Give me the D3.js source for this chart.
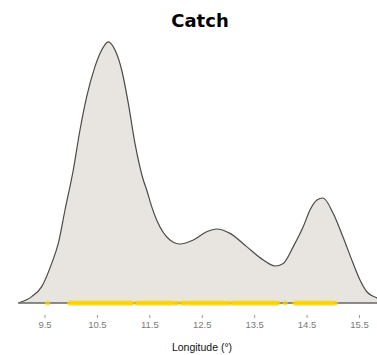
<!DOCTYPE html>
<html>
<head>
<meta charset="utf-8">
<script src="https://cdn.jsdelivr.net/npm/d3@7"></script>
<style>
  body { margin: 0; background: #fff; }
  svg { display: block; }
</style>
</head>
<body>
<div id="chart"></div>
<script>
// density curve (longitude, relative density)
const densLon = [9.00, 9.256, 9.447, 9.637, 9.763, 9.891, 10.049, 10.177, 10.305, 10.463, 10.591, 10.717, 10.845, 10.973, 11.099, 11.226, 11.385, 11.45, 11.545, 11.64, 11.894, 12.085, 12.339, 12.594, 12.785, 13.039, 13.357, 13.674, 13.897, 14.055, 14.246, 14.437, 14.565, 14.698, 14.813, 15.004, 15.195, 15.385, 15.519, 15.653, 15.843, 15.95];
const densVal = [0, 0.016, 0.041, 0.099, 0.149, 0.2325, 0.3325, 0.4325, 0.516, 0.591, 0.6325, 0.653, 0.6325, 0.5825, 0.499, 0.399, 0.3075, 0.2825, 0.241, 0.2075, 0.1575, 0.1475, 0.1575, 0.178, 0.185, 0.174, 0.141, 0.1075, 0.0925, 0.099, 0.141, 0.191, 0.2325, 0.2575, 0.2625, 0.225, 0.165, 0.1, 0.0575, 0.0275, 0.0125, 0.004];

// catch positions (rug)
const catchLon = [9.56,
  9.98, 10.02, 10.06, 10.10, 10.14, 10.18, 10.22, 10.26, 10.30, 10.34, 10.38, 10.42, 10.46, 10.50, 10.54, 10.58, 10.62, 10.66, 10.70, 10.74, 10.78, 10.82, 10.86, 10.90, 10.94, 10.98, 11.02, 11.06, 11.10, 11.14, 11.16,
  11.26, 11.30, 11.34, 11.38, 11.42, 11.46, 11.50, 11.54, 11.58, 11.62, 11.66, 11.70, 11.74, 11.78, 11.82, 11.86, 11.89,
  11.93, 11.99, 12.03,
  12.12, 12.16, 12.20, 12.25,
  12.29, 12.33, 12.37, 12.41, 12.45, 12.49, 12.53, 12.57, 12.61, 12.65, 12.69, 12.73, 12.77, 12.81, 12.85, 12.89, 12.93, 12.98,
  13.01,
  13.08, 13.12, 13.16, 13.20, 13.24, 13.28, 13.32, 13.36, 13.40, 13.44, 13.48, 13.52, 13.56, 13.60, 13.64, 13.68, 13.72, 13.76, 13.80, 13.84, 13.88, 13.92, 13.95,
  14.09,
  14.28, 14.32, 14.36, 14.40, 14.44, 14.48, 14.52, 14.56, 14.60, 14.64, 14.68, 14.72, 14.76, 14.80, 14.84, 14.88, 14.92, 14.96, 15.00, 15.05];

const tickVals = [9.5, 10.5, 11.5, 12.5, 13.5, 14.5, 15.5];

const width = 377, height = 355;

const svg = d3.select("#chart")
  .append("svg")
    .attr("width", width)
    .attr("height", height);

const x = d3.scaleLinear()
  .domain([9.5, 15.5])
  .range([44.5, 359]);

const y = d3.scaleLinear()
  .domain([0, 0.65])
  .range([303, 43]);

const pts = densLon.map((d, i) => ({x: d, y: densVal[i]}));

const area = d3.area()
  .x(d => x(d.x))
  .y0(y(0))
  .y1(d => y(d.y))
  .curve(d3.curveMonotoneX);

// density
svg.append("path")
  .datum(pts)
  .attr("d", area)
  .attr("fill", "#e8e4df")
  .attr("stroke", "none");

const line = d3.line()
  .x(d => x(d.x))
  .y(d => y(d.y))
  .curve(d3.curveMonotoneX);

svg.append("path")
  .datum(pts)
  .attr("d", line)
  .attr("fill", "none")
  .attr("stroke", "#4a4a4a")
  .attr("stroke-width", 1.2);

// baseline
svg.append("line")
  .attr("x1", x(densLon[0]))
  .attr("x2", x(densLon[densLon.length - 1]))
  .attr("y1", y(0))
  .attr("y2", y(0))
  .attr("stroke", "#666")
  .attr("stroke-width", 1.6);

// rug points
svg.selectAll("circle.rug")
  .data(catchLon)
  .enter()
  .append("circle")
    .attr("class", "rug")
    .attr("cx", d => x(d))
    .attr("cy", y(0))
    .attr("r", 2.6)
    .attr("fill", "#ffd700")
    .attr("fill-opacity", 0.7);

// x axis
const xAxis = d3.axisBottom(x)
  .tickValues(tickVals)
  .tickFormat(d3.format(".1f"))
  .tickSize(3)
  .tickPadding(3);

const gx = svg.append("g")
  .attr("transform", "translate(0,315)")
  .call(xAxis);

gx.select(".domain").remove();
gx.selectAll(".tick line").attr("stroke", "#999");
gx.selectAll(".tick text")
  .attr("fill", "#7a7a7a")
  .style("font-family", "'Liberation Sans', Arial, sans-serif")
  .style("font-size", "9.5px");

// x label
svg.append("text")
  .attr("x", 202)
  .attr("y", 351)
  .attr("text-anchor", "middle")
  .style("font-family", "'Liberation Sans', Arial, sans-serif")
  .style("font-size", "10.5px")
  .attr("fill", "#111")
  .text("Longitude (°)");

// title
svg.append("text")
  .attr("x", 200)
  .attr("y", 27)
  .attr("text-anchor", "middle")
  .style("font-family", "'DejaVu Sans', Verdana, sans-serif")
  .style("font-weight", "bold")
  .style("font-size", "18px")
  .attr("fill", "#000")
  .text("Catch");
</script>
</body>
</html>
